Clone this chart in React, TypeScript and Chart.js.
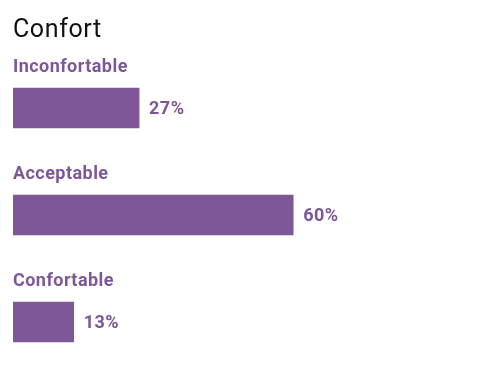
import React, { useEffect, useRef } from "react";
import { Chart, registerables } from "chart.js";

Chart.register(...registerables);

const title = "Confort";
const categories = ["Inconfortable", "Acceptable", "Confortable"];
const values = [27, 60, 13];
const valueLabels = ["27%", "60%", "13%"];

const PURPLE = "#7e5799";

const labelPlugin = {
  id: "labelPlugin",
  afterDatasetsDraw(chart: any) {
    const ctx = chart.ctx;
    const meta = chart.getDatasetMeta(0);
    const left = chart.chartArea.left;
    ctx.save();
    ctx.fillStyle = "#111";
    ctx.font = "400 25px Roboto";
    ctx.letterSpacing = "0.6px";
    ctx.textBaseline = "alphabetic";
    ctx.textAlign = "left";
    ctx.fillText(title, left, 37);
    meta.data.forEach((bar: any, i: number) => {
      ctx.fillStyle = PURPLE;
      ctx.font = "bold 18px Roboto";
      ctx.letterSpacing = "0.45px";
      ctx.textBaseline = "alphabetic";
      ctx.fillText(categories[i], left, bar.y - bar.height / 2 - 16);
      ctx.textBaseline = "middle";
      ctx.fillText(valueLabels[i], bar.x + 10, bar.y + 1);
    });
    ctx.restore();
  },
};

export default function App() {
  const ref = useRef<HTMLCanvasElement>(null);
  useEffect(() => {
    const chart = new Chart(ref.current!, {
      type: "bar",
      data: {
        labels: categories,
        datasets: [
          {
            data: values,
            backgroundColor: PURPLE,
            barThickness: 40,
          },
        ],
      },
      options: {
        indexAxis: "y",
        animation: false,
        responsive: false,
        maintainAspectRatio: false,
        layout: { padding: { left: 13, right: 14, top: 54.5, bottom: 1.5 } },
        plugins: { legend: { display: false }, tooltip: { enabled: false }, title: { display: false } },
        scales: {
          x: { display: false, min: 0, max: 100 },
          y: { display: false },
        },
      },
      plugins: [labelPlugin],
    });
    return () => chart.destroy();
  }, []);
  return (
    <div style={{ position: "fixed", left: 0, top: 0, width: 494, height: 377, background: "#fff" }}>
      <canvas ref={ref} width={494} height={377} style={{ display: "block" }} />
    </div>
  );
}
